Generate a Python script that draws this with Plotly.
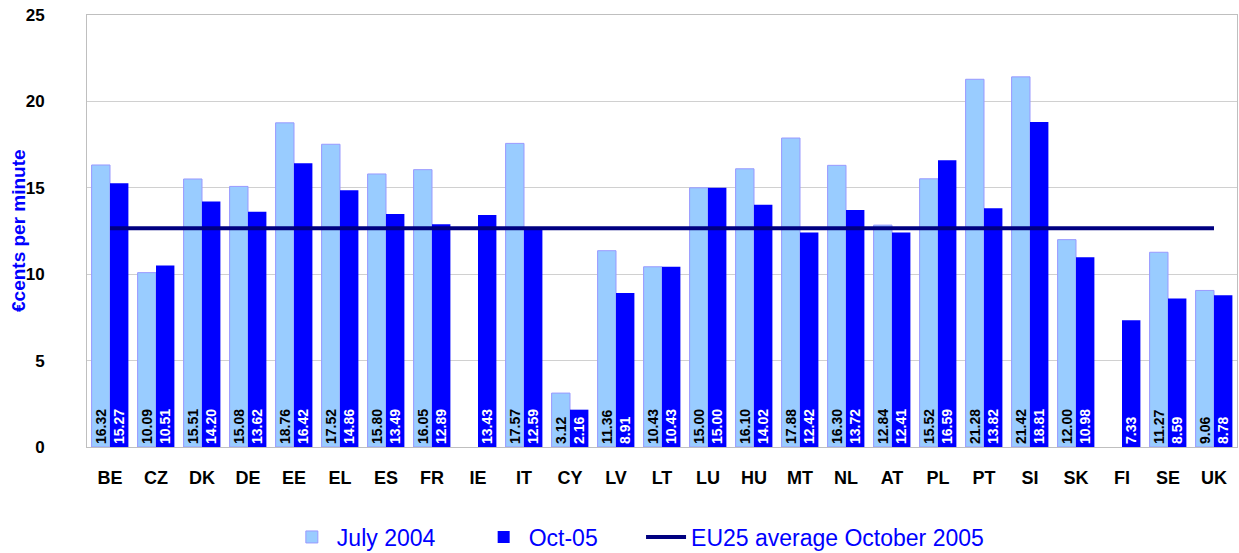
import plotly.graph_objects as go

countries = ['BE', 'CZ', 'DK', 'DE', 'EE', 'EL', 'ES', 'FR', 'IE', 'IT', 'CY', 'LV', 'LT',
             'LU', 'HU', 'MT', 'NL', 'AT', 'PL', 'PT', 'SI', 'SK', 'FI', 'SE', 'UK']
july_2004 = [16.32, 10.09, 15.51, 15.08, 18.76, 17.52, 15.80, 16.05, None, 17.57, 3.12, 11.36, 10.43,
             15.00, 16.10, 17.88, 16.30, 12.84, 15.52, 21.28, 21.42, 12.00, None, 11.27, 9.06]
oct_2005 = [15.27, 10.51, 14.20, 13.62, 16.42, 14.86, 13.49, 12.89, 13.43, 12.59, 2.16, 8.91, 10.43,
            15.00, 14.02, 12.42, 13.72, 12.41, 16.59, 13.82, 18.81, 10.98, 7.33, 8.59, 8.78]
eu25_avg = 12.66

pad = '\u00a0' * 6  # extra room between legend entries


def labels(vals):
    return ['' if v is None else f'{v:.2f}' for v in vals]


fig = go.Figure()

fig.add_bar(
    x=countries, y=july_2004, name='July 2004' + pad,
    marker=dict(color='#99CCFF', line=dict(color='#9999FF', width=1)),
    text=labels(july_2004), textposition='inside', insidetextanchor='start',
    textangle=-90, constraintext='none',
    textfont=dict(family='Arial', size=14, color='black', weight='bold'),
)
fig.add_bar(
    x=countries, y=oct_2005, name='Oct-05' + pad,
    marker=dict(color='#0000FF', line=dict(width=0)),
    text=labels(oct_2005), textposition='inside', insidetextanchor='start',
    textangle=-90, constraintext='none',
    textfont=dict(family='Arial', size=14, color='white', weight='bold'),
)
fig.add_scatter(
    x=countries, y=[eu25_avg] * len(countries), mode='lines',
    name='EU25 average October 2005',
    line=dict(color='#000080', width=4),
)

fig.update_layout(
    width=1239, height=553,
    margin=dict(l=87, r=2, t=15, b=106),
    plot_bgcolor='white', paper_bgcolor='white',
    barmode='group', bargap=0.2, bargroupgap=0,
    font=dict(family='Arial'),
    uniformtext=dict(minsize=14, mode='show'),
    legend=dict(orientation='h', x=0.479, xanchor='center',
                yref='container', y=16 / 553, yanchor='middle',
                font=dict(size=23, color='#0000FF'), itemwidth=40,
                traceorder='normal'),
    xaxis=dict(
        showline=True, linecolor='#BFBFBF', linewidth=1, mirror=True,
        ticks='', ticklabelstandoff=14, automargin=False,
        tickfont=dict(size=18, color='black', weight='bold'),
    ),
    yaxis=dict(
        range=[0, 25], dtick=5, showgrid=True, gridcolor='#D0D0D0', gridwidth=1,
        showline=True, linecolor='#BFBFBF', linewidth=1, mirror=True,
        zeroline=False, ticks='', ticklabelstandoff=38, automargin=False,
        tickfont=dict(size=17, color='black', weight='bold'),
    ),
    annotations=[dict(
        text='€cents per minute', textangle=-90, showarrow=False,
        xref='paper', yref='paper', x=-69 / 1150, y=0.5,
        xanchor='center', yanchor='middle',
        font=dict(size=19, color='#0000FF', weight='bold'),
    )],
)

fig.write_html('out.html', config={'displayModeBar': False},
               post_script="document.body.style.margin='0';")
